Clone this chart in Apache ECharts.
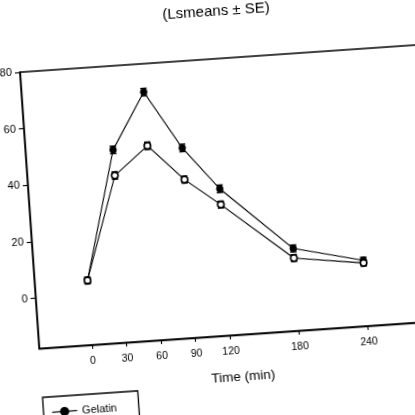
<!DOCTYPE html>
<html>
<head>
<meta charset="utf-8">
<script src="https://cdn.jsdelivr.net/npm/echarts@6/dist/echarts.min.js"></script>
<style>
  html, body { margin: 0; padding: 0; background: #fff; overflow: hidden; }
  #chart {
    position: absolute;
    left: 0;
    top: 0;
    width: 520px;
    height: 460px;
    transform-origin: 0 0;
    /* the reference is a slightly tilted photo of the figure */
    transform: matrix(0.99766, -0.06853, 0.06956, 0.99758, -44.19, 16.46);
  }
</style>
</head>
<body>
<div id="chart"></div>
<script>
// time points (min)
var times = [0, 30, 60, 90, 120, 180, 240]
var xTicks = [0, 30, 60, 90, 120, 180, 240]
var yTicks = [0, 20, 40, 60, 80]

// filled circles
var gelatin = [5.0, 50.4, 70.0, 49.4, 34.1, 11.3, 5.4]
var gelatinSe = [1.1, 1.3, 1.3, 1.3, 1.3, 1.2, 1.1]
// open circles
var other = [5.0, 41.3, 51.0, 38.2, 28.5, 7.9, 4.5]
var otherSe = [1.1, 1.3, 1.3, 1.2, 1.2, 1.2, 1.1]

var font = 'Liberation Sans, Arial, Helvetica, sans-serif'

function pairs (vals) {
  return times.map(function (t, i) { return [t, vals[i]] })
}

function errData (vals, se) {
  return times.map(function (t, i) { return [t, vals[i] - se[i], vals[i] + se[i]] })
}

function errorBars (params, api) {
  var lo = api.coord([api.value(0), api.value(1)])
  var hi = api.coord([api.value(0), api.value(2)])
  var w = 3.2
  var style = { stroke: '#000', lineWidth: 1.5 }
  return {
    type: 'group',
    children: [
      { type: 'line', shape: { x1: lo[0], y1: lo[1], x2: hi[0], y2: hi[1] }, style: style },
      { type: 'line', shape: { x1: lo[0] - w, y1: lo[1], x2: lo[0] + w, y2: lo[1] }, style: style },
      { type: 'line', shape: { x1: hi[0] - w, y1: hi[1], x2: hi[0] + w, y2: hi[1] }, style: style }
    ]
  }
}

var chart = echarts.init(document.getElementById('chart'))
chart.setOption({
  animation: false,
  backgroundColor: '#fff',
  title: {
    text: '(Lsmeans ± SE)',
    left: 'center',
    top: 5,
    padding: 0,
    textStyle: { fontFamily: font, fontSize: 15, fontWeight: 'normal', color: '#000' }
  },
  legend: {
    data: ['Gelatin'],
    left: 60,
    top: 386,
    orient: 'vertical',
    padding: [10, 22, 40, 8],
    itemWidth: 25,
    itemHeight: 9,
    borderColor: '#000',
    borderWidth: 1.3,
    borderRadius: 0,
    lineStyle: { width: 1.2 },
    textStyle: { fontFamily: font, fontSize: 11, color: '#000' }
  },
  grid: {
    left: 60,
    top: 60,
    width: 403.4,
    height: 277,
    show: true,
    borderColor: '#000',
    borderWidth: 1.4,
    backgroundColor: 'transparent'
  },
  xAxis: {
    type: 'value',
    min: -46,
    max: 304,
    name: 'Time (min)',
    nameLocation: 'middle',
    nameGap: 35,
    nameTextStyle: { fontFamily: font, fontSize: 13.5, color: '#000' },
    axisLine: { onZero: false, lineStyle: { color: '#000', width: 1.4 } },
    axisTick: { customValues: xTicks, length: 4, lineStyle: { color: '#000', width: 1.1 } },
    axisLabel: { customValues: xTicks, margin: 11, fontFamily: font, fontSize: 10.5, color: '#000' },
    splitLine: { show: false }
  },
  yAxis: {
    type: 'value',
    min: -17.8,
    max: 80,
    axisLine: { show: true, onZero: false, lineStyle: { color: '#000', width: 1.4 } },
    axisTick: { show: true, customValues: yTicks, length: 5, lineStyle: { color: '#000', width: 1.1 } },
    axisLabel: { customValues: yTicks, margin: 8, fontFamily: font, fontSize: 11, color: '#000' },
    splitLine: { show: false }
  },
  series: [
    {
      type: 'custom',
      data: errData(gelatin, gelatinSe),
      renderItem: errorBars,
      z: 1
    },
    {
      type: 'custom',
      data: errData(other, otherSe),
      renderItem: errorBars,
      z: 1
    },
    {
      name: 'Gelatin',
      type: 'line',
      data: pairs(gelatin),
      symbol: 'circle',
      symbolSize: 6.5,
      z: 3,
      lineStyle: { color: '#000', width: 1.1 },
      itemStyle: { color: '#000', borderColor: '#000', borderWidth: 1 }
    },
    {
      name: 'Comparison',
      type: 'line',
      data: pairs(other),
      symbol: 'circle',
      symbolSize: 6.5,
      z: 5,
      lineStyle: { color: '#000', width: 1.1 },
      itemStyle: { color: '#fff', borderColor: '#000', borderWidth: 1.6 }
    }
  ]
})
</script>
</body>
</html>
